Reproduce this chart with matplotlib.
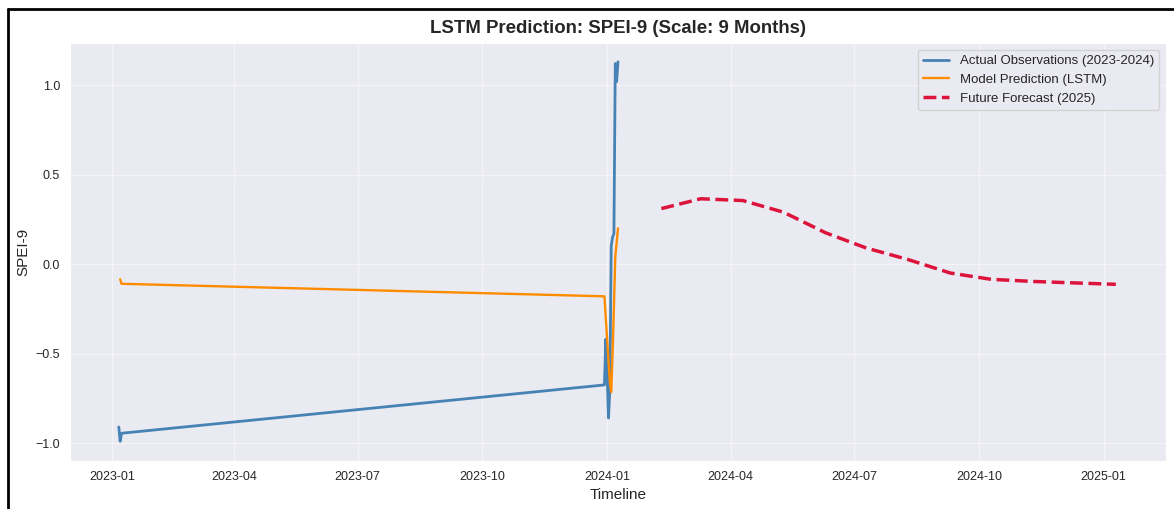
import pandas as pd
import numpy as np
import matplotlib
matplotlib.use("Agg")
import matplotlib.pyplot as plt
import matplotlib.dates as mdates
from matplotlib.lines import Line2D
import seaborn as sns

sns.set_style("darkgrid")
plt.rcParams['font.family'] = ['Liberation Sans', 'DejaVu Sans']

# Actual observations (dates as plotted)
actual_dates = pd.to_datetime([
    "2023-01-06", "2023-01-07", "2023-01-08", "2023-12-30", "2023-12-31",
    "2024-01-01", "2024-01-02", "2024-01-03", "2024-01-04", "2024-01-05",
    "2024-01-06", "2024-01-07", "2024-01-08", "2024-01-09",
])
actual_vals = [-0.91, -0.99, -0.945, -0.675, -0.42,
               -0.62, -0.86, -0.70, 0.10, 0.15,
               0.17, 1.12, 1.02, 1.13]

# LSTM prediction
pred_dates = pd.to_datetime([
    "2023-01-07", "2023-01-08", "2023-12-30", "2024-01-01", "2024-01-03",
    "2024-01-04", "2024-01-05", "2024-01-06", "2024-01-07", "2024-01-09",
])
pred_vals = [-0.085, -0.11, -0.18, -0.42, -0.66,
             -0.715, -0.50, -0.24, 0.04, 0.20]

# Future forecast
fc_dates = pd.to_datetime([
    "2024-02-10", "2024-03-10", "2024-04-10", "2024-05-10", "2024-06-10",
    "2024-07-10", "2024-08-10", "2024-09-10", "2024-10-10", "2024-11-10",
    "2024-12-10", "2025-01-10",
])
fc_vals = [0.31, 0.365, 0.355, 0.29, 0.175, 0.09, 0.025, -0.05, -0.085, -0.097, -0.105, -0.113]

fig = plt.figure(figsize=(11.74, 5.09), dpi=100)
ax = fig.add_axes([0.0596, 0.0943, 0.9336, 0.8212])

ax.plot(actual_dates, actual_vals, color="steelblue", lw=2.0, label="Actual Observations (2023-2024)")
ax.plot(pred_dates, pred_vals, color="darkorange", lw=1.7, label="Model Prediction (LSTM)")
ax.plot(fc_dates, fc_vals, color="crimson", lw=2.5, ls="--", label="Future Forecast (2025)")

ax.set_xlim(pd.Timestamp("2022-12-01"), pd.Timestamp("2025-02-16"))
ax.set_ylim(-1.10, 1.235)
ax.set_yticks([-1.0, -0.5, 0.0, 0.5, 1.0])
ax.xaxis.set_major_locator(mdates.MonthLocator(bymonth=[1, 4, 7, 10]))
ax.xaxis.set_major_formatter(mdates.DateFormatter("%Y-%m"))
ax.tick_params(labelsize=9)
ax.grid(True, color="white", lw=0.9, alpha=0.5)

ax.set_title("LSTM Prediction: SPEI-9 (Scale: 9 Months)", fontsize=13.4, fontweight="bold", pad=7)
ax.set_xlabel("Timeline", fontsize=11)
ax.set_ylabel("SPEI-9", fontsize=11)
ax.legend(loc="upper right", fontsize=9.5)

# black frame of the screenshot (top and left)
W, H = 1174, 509
fig.add_artist(Line2D([8 / W, 1.0], [1 - 9 / H, 1 - 9 / H], transform=fig.transFigure, color="black", lw=2))
fig.add_artist(Line2D([8 / W, 8 / W], [0.0, 1 - 9 / H], transform=fig.transFigure, color="black", lw=2))

fig.savefig("out.png", dpi=100)
